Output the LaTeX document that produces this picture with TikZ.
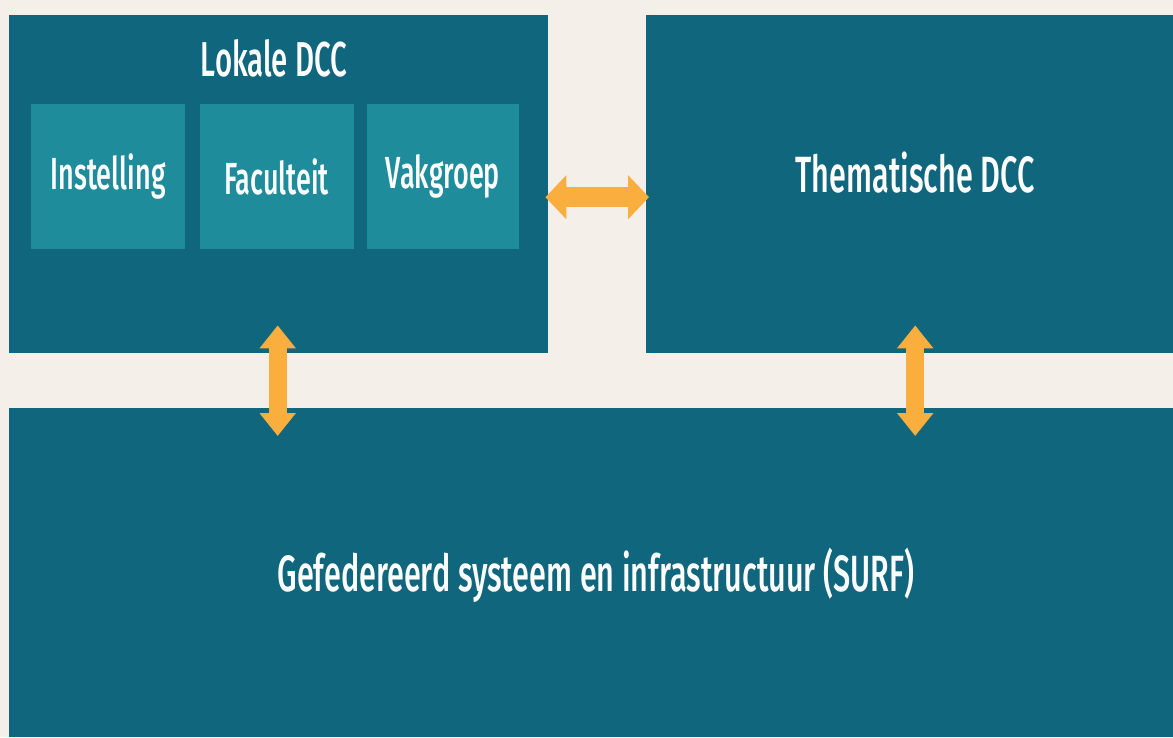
\documentclass[tikz,border=0pt]{standalone}
\usepackage{fontspec}
\setmainfont{Fira Sans Medium}[FakeStretch=0.6]
\usetikzlibrary{arrows.meta, positioning}
\definecolor{dccdonker}{HTML}{10667D}
\definecolor{dcclicht}{HTML}{1F8C9C}
\definecolor{dccoranje}{HTML}{F9AE3E}
\definecolor{dccachter}{HTML}{F5EFEA}

\begin{document}
\begin{tikzpicture}[
    x=1pt, y=-1pt,
    node distance=14pt,
    blok/.style={rectangle, fill=dccdonker, inner sep=0pt, anchor=north west},
    onderdeel/.style={rectangle, fill=dcclicht, inner sep=0pt, minimum width=154pt, minimum height=145pt, text=white, font=\fontsize{45}{50}\selectfont},
    titel/.style={text=white, inner sep=0pt},
    pijlh/.style={dccoranje, line width=20pt, {Triangle[length=21pt, width=43pt]}-{Triangle[length=21pt, width=43pt]}},
    pijlv/.style={dccoranje, line width=18pt, {Triangle[length=23pt, width=35pt]}-{Triangle[length=23pt, width=35pt]}}
]

% achtergrond
\fill[dccachter] (0,0) rectangle (1173,737);
\useasboundingbox (0,0) rectangle (1173,737);

\node[blok, minimum width=539pt, minimum height=338pt] (lokale) at (9,15) {};
\node[blok, minimum width=527pt, minimum height=338pt] (thema) at (646,15) {};
\node[blok, minimum width=1164pt, minimum height=329pt] (surf) at (9,408) {};

\node[titel, font=\fontsize{49}{52}\selectfont] (lokaletitel) at (274,58) {Lokale DCC};
\node[titel, font=\fontsize{51}{56}\selectfont] (thematitel) at (915,173) {Thematische DCC};
\node[titel, font=\fontsize{51}{56}\selectfont] (surftitel) at (596,575) {Gefedereerd systeem en infrastructuur (SURF)};

\node[onderdeel, anchor=north west] (instelling) at (31,104) {Instelling};
\node[onderdeel, right=14pt of instelling] (faculteit) {Faculteit};
\node[onderdeel, right=13pt of faculteit, minimum width=152pt] (vakgroep) {Vakgroep};

\draw[pijlh, shorten <=-3pt, shorten >=-3pt] ([yshift=-13pt]lokale.east) -- ([yshift=-13pt]lokale.east -| thema.west);
\draw[pijlv] ([xshift=-1pt, yshift=28pt]lokale.south) -- ([xshift=-1pt, yshift=-28pt]lokale.south |- surf.north);
\draw[pijlv] ([xshift=5.5pt, yshift=28pt]thema.south) -- ([xshift=5.5pt, yshift=-28pt]thema.south |- surf.north);

\end{tikzpicture}
\end{document}
